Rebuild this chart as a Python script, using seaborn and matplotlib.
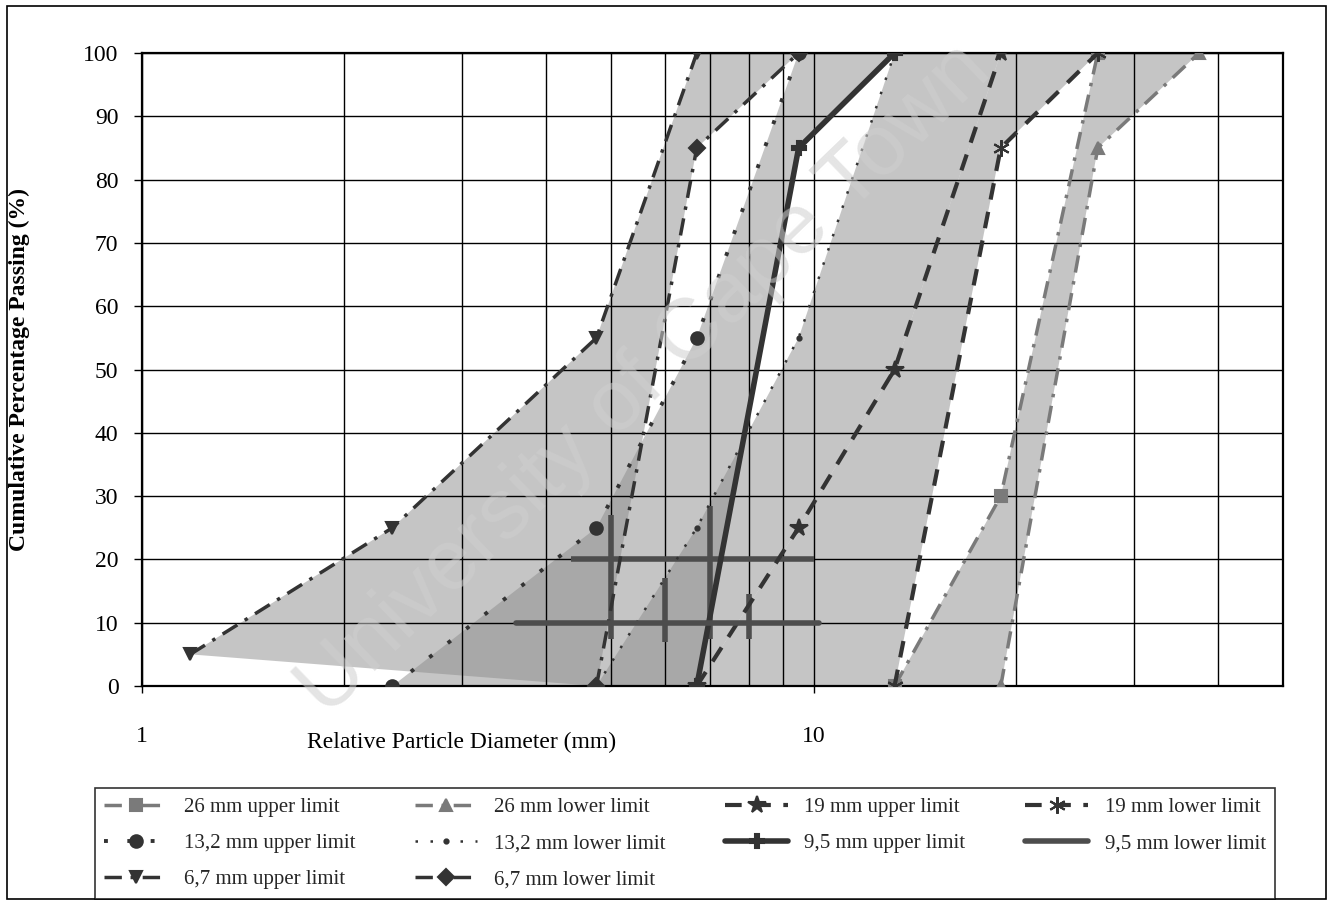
import numpy as np
import matplotlib
matplotlib.use("Agg")
import matplotlib.pyplot as plt
import seaborn as sns
import pandas as pd
from matplotlib.patches import Rectangle

# grading limits: particle size (mm) vs cumulative % passing
g26_up_x = [13.2, 19.0, 26.5]
g26_up_y = [0, 30, 100]
g26_lo_x = [19.0, 26.5, 37.5]
g26_lo_y = [0, 85, 100]

g19_up_x = [6.7, 9.5, 13.2, 19.0]
g19_up_y = [0, 25, 50, 100]
g19_lo_x = [13.2, 19.0, 26.5]
g19_lo_y = [0, 85, 100]

g13_up_x = [2.36, 4.75, 6.7, 9.5]
g13_up_y = [0, 25, 55, 100]
g13_lo_x = [4.75, 6.7, 9.5, 13.2]
g13_lo_y = [0, 25, 55, 100]

g95_up_x = [6.7, 9.5, 13.2]
g95_up_y = [0, 85, 100]
g95_lo_x = [3.6, 10.2]
g95_lo_y = [10, 10]

g67_up_x = [1.18, 2.36, 4.75, 6.7]
g67_up_y = [5, 25, 55, 100]
g67_lo_x = [4.75, 6.7, 9.5]
g67_lo_y = [0, 85, 100]

# extra heavy bars drawn with the 9,5 mm limits
bar_level = [20]
bar_from = [4.35]
bar_to = [10.0]
tick_x = [5.0, 6.0, 7.0, 8.0]
tick_lo = [7.5, 7.0, 7.5, 7.5]
tick_hi = [27.0, 17.0, 28.5, 14.5]

# legend order (filled column by column, 4 columns)
series = [
    ("26 mm upper limit", g26_up_x, g26_up_y),
    ("13,2 mm upper limit", g13_up_x, g13_up_y),
    ("6,7 mm upper limit", g67_up_x, g67_up_y),
    ("26 mm lower limit", g26_lo_x, g26_lo_y),
    ("13,2 mm lower limit", g13_lo_x, g13_lo_y),
    ("6,7 mm lower limit", g67_lo_x, g67_lo_y),
    ("19 mm upper limit", g19_up_x, g19_up_y),
    ("9,5 mm upper limit", g95_up_x, g95_up_y),
    ("19 mm lower limit", g19_lo_x, g19_lo_y),
    ("9,5 mm lower limit", g95_lo_x, g95_lo_y),
]
# shaded envelopes (left curve, right curve)
bands = [
    (g67_up_x, g67_up_y, g67_lo_x, g67_lo_y),
    (g13_up_x, g13_up_y, g95_up_x, g95_up_y),
    (g13_lo_x, g13_lo_y, g19_up_x, g19_up_y),
    (g19_up_x, g19_up_y, g19_lo_x, g19_lo_y),
    (g26_up_x, g26_up_y, g26_lo_x, g26_lo_y),
]

dk = "#333333"
gr = "#7a7a7a"
dashdot = (0, (5, 2.5, 1, 2.5))
styles = {
    "26 mm upper limit": dict(color=gr, linestyle=dashdot, marker="s", linewidth=2.5, markersize=8),
    "26 mm lower limit": dict(color=gr, linestyle=dashdot, marker="^", linewidth=2.5, markersize=8),
    "19 mm upper limit": dict(color=dk, linestyle=(0, (4, 3)), marker="*", linewidth=3, markersize=13),
    "19 mm lower limit": dict(color=dk, linestyle=(0, (4, 3)), marker=(6, 2, 0), linewidth=3, markersize=12),
    "13,2 mm upper limit": dict(color=dk, linestyle=(0, (1, 5)), marker="o", linewidth=2.8, markersize=9),
    "13,2 mm lower limit": dict(color=dk, linestyle=(0, (1, 5)), marker=".", linewidth=1.8, markersize=6),
    "9,5 mm upper limit": dict(color=dk, linestyle="-", marker="P", linewidth=4, markersize=10),
    "9,5 mm lower limit": dict(color="#4d4d4d", linestyle="-", linewidth=4),
    "6,7 mm upper limit": dict(color=dk, linestyle=dashdot, marker="v", linewidth=2.5, markersize=8),
    "6,7 mm lower limit": dict(color=dk, linestyle=dashdot, marker="D", linewidth=2.5, markersize=8),
}

sns.set_theme(style="ticks")
plt.rcParams["font.family"] = ["Liberation Serif", "DejaVu Serif"]

fig = plt.figure(figsize=(13.32, 9.05), dpi=100)
ax = fig.add_axes([142 / 1332, 1 - 686 / 905, 1141 / 1332, 633 / 905])

for ux, uy, lx, ly in bands:
    px = np.r_[ux, lx[::-1]]
    py = np.r_[uy, ly[::-1]]
    ax.fill(px, py, color="#8c8c8c", alpha=0.5, linewidth=0, zorder=1)

ax.hlines(bar_level, bar_from, bar_to, colors="#4d4d4d", linewidth=4, zorder=2.7)
ax.vlines(tick_x, tick_lo, tick_hi, colors="#4d4d4d", linewidth=4, zorder=2.7)

for name, xs, ys in series:
    df = pd.DataFrame({"size": xs, "passing": ys})
    st = dict(styles[name])
    st["markeredgecolor"] = st["color"]
    st["markeredgewidth"] = 1.5
    sns.lineplot(data=df, x="size", y="passing", ax=ax, label=name,
                 sort=False, zorder=3, **st)

handles, labels = ax.get_legend_handles_labels()
if ax.get_legend() is not None:
    ax.get_legend().remove()

ax.set_xscale("log")
ax.set_xlim(1, 50)
ax.set_ylim(0, 100)
ax.set_yticks(np.arange(0, 101, 10))
ax.set_xticks([1, 10])
ax.set_xticklabels(["1", "10"])
ax.xaxis.set_minor_locator(matplotlib.ticker.LogLocator(base=10, subs=np.arange(2, 10)))
ax.xaxis.set_minor_formatter(matplotlib.ticker.NullFormatter())
ax.set_axisbelow(False)
ax.grid(which="both", axis="x", color="black", linewidth=1, zorder=2.5)
ax.grid(which="major", axis="y", color="black", linewidth=1, zorder=2.5)
ax.tick_params(axis="y", direction="out", length=6, width=1, labelsize=17, pad=11, colors="black")
ax.tick_params(axis="x", which="major", direction="out", length=5, width=1, labelsize=17, pad=24, colors="black")
ax.tick_params(axis="x", which="minor", length=0)
for s in ax.spines.values():
    s.set_visible(True)
    s.set_color("black")
    s.set_linewidth(1.6)

ax.set_xlabel("Relative Particle Diameter (mm)", fontsize=17, color="black")
ax.xaxis.set_label_coords(0.28, -0.072)
ax.set_ylabel("Cumulative Percentage Passing (%)", fontsize=17, fontweight="bold", color="black")
ax.yaxis.set_label_coords(-0.098, 0.5)

fig.text(645 / 1332, 1 - 380 / 905, "University of Cape Town", rotation=44,
         ha="center", va="center", fontsize=62, family="Liberation Sans",
         color="#cfcfcf", alpha=0.55, zorder=10)

fig.legend(handles, labels, loc="upper left", ncol=4, mode="expand",
           bbox_to_anchor=(95 / 1332, 1 - 898 / 905, 1180 / 1332, 110 / 905),
           frameon=True, fancybox=False, edgecolor="black", fontsize=15,
           handlelength=3.0, handletextpad=0.8, labelspacing=0.8,
           borderaxespad=0, borderpad=0.45)
leg = fig.legends[0]
leg.get_frame().set_linewidth(1.2)

fig.patches.append(Rectangle((7 / 1332, 6 / 905), 1319 / 1332, 893 / 905,
                             transform=fig.transFigure, fill=False,
                             edgecolor="black", linewidth=1.2))

fig.savefig("out.png", dpi=100)
